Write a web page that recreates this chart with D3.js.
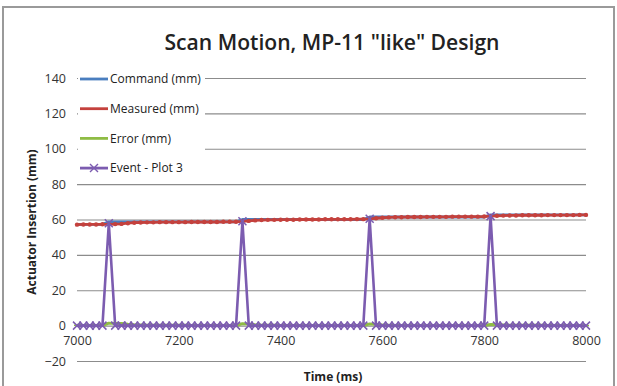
<!DOCTYPE html>
<html>
<head>
<meta charset="utf-8">
<script src="https://cdn.jsdelivr.net/npm/d3@7"></script>
<style>
  body { margin: 0; background: #fff; }
  svg text { font-family: "Open Sans", "Noto Sans", sans-serif; fill: #222; }
</style>
</head>
<body>
<svg id="chart" width="617" height="386"></svg>
<script>
// sample times (ms), every 12.5 ms
const times = [
  7000, 7012.5, 7025, 7037.5, 7050, 7062.5, 7075, 7087.5, 7100, 7112.5,
  7125, 7137.5, 7150, 7162.5, 7175, 7187.5, 7200, 7212.5, 7225, 7237.5,
  7250, 7262.5, 7275, 7287.5, 7300, 7312.5, 7325, 7337.5, 7350, 7362.5,
  7375, 7387.5, 7400, 7412.5, 7425, 7437.5, 7450, 7462.5, 7475, 7487.5,
  7500, 7512.5, 7525, 7537.5, 7550, 7562.5, 7575, 7587.5, 7600, 7612.5,
  7625, 7637.5, 7650, 7662.5, 7675, 7687.5, 7700, 7712.5, 7725, 7737.5,
  7750, 7762.5, 7775, 7787.5, 7800, 7812.5, 7825, 7837.5, 7850, 7862.5,
  7875, 7887.5, 7900, 7912.5, 7925, 7937.5, 7950, 7962.5, 7975, 7987.5, 8000
];

const command = [
  57.3, 57.3, 57.3, 57.3, 57.3, 58.7, 58.7, 58.7, 58.7, 58.7,
  58.7, 58.7, 58.7, 58.7, 58.7, 58.7, 58.7, 58.7, 58.7, 58.7,
  58.7, 58.7, 58.7, 58.7, 58.7, 58.7, 60.0, 60.0, 60.0, 60.0,
  60.0, 60.0, 60.0, 60.0, 60.0, 60.0, 60.0, 60.0, 60.0, 60.0,
  60.0, 60.0, 60.0, 60.0, 60.0, 60.0, 61.4, 61.4, 61.4, 61.4,
  61.4, 61.4, 61.4, 61.4, 61.4, 61.4, 61.4, 61.4, 61.4, 61.4,
  61.4, 61.4, 61.4, 61.4, 61.4, 62.6, 62.6, 62.6, 62.6, 62.6,
  62.6, 62.6, 62.6, 62.6, 62.6, 62.6, 62.6, 62.6, 62.6, 62.6, 62.6
];

const measured = [
  57.1, 57.2, 57.2, 57.2, 57.3, 57.3, 57.4, 57.5, 57.9, 58.2,
  58.3, 58.4, 58.4, 58.5, 58.5, 58.5, 58.5, 58.5, 58.6, 58.6,
  58.6, 58.6, 58.6, 58.7, 58.7, 58.7, 58.9, 59.2, 59.5, 59.7,
  59.8, 59.8, 59.9, 59.9, 59.9, 60.0, 60.0, 60.0, 60.0, 60.1,
  60.1, 60.1, 60.1, 60.1, 60.2, 60.2, 60.4, 60.7, 61.0, 61.2,
  61.3, 61.3, 61.4, 61.4, 61.4, 61.5, 61.5, 61.5, 61.5, 61.6,
  61.6, 61.6, 61.6, 61.6, 61.7, 61.9, 62.1, 62.2, 62.3, 62.3,
  62.4, 62.4, 62.4, 62.4, 62.5, 62.5, 62.5, 62.5, 62.5, 62.6, 62.6
];

const errorMm = [
  0.2, 0.1, 0.1, 0.1, 0.0, 1.4, 1.3, 1.2, 0.8, 0.5,
  0.4, 0.3, 0.3, 0.2, 0.2, 0.2, 0.2, 0.2, 0.1, 0.1,
  0.1, 0.1, 0.1, 0.0, 0.0, 0.0, 1.1, 0.8, 0.5, 0.3,
  0.2, 0.2, 0.1, 0.1, 0.1, 0.0, 0.0, 0.0, 0.0, 0.0,
  0.0, 0.0, 0.0, 0.0, 0.0, 0.0, 1.0, 0.7, 0.4, 0.2,
  0.1, 0.1, 0.0, 0.0, 0.0, 0.0, 0.0, 0.0, 0.0, 0.0,
  0.0, 0.0, 0.0, 0.0, 0.0, 0.7, 0.5, 0.4, 0.3, 0.3,
  0.2, 0.2, 0.2, 0.2, 0.1, 0.1, 0.1, 0.1, 0.1, 0.0, 0.0
];

const eventPlot3 = [
  0, 0, 0, 0, 0, 57.9, 0, 0, 0, 0,
  0, 0, 0, 0, 0, 0, 0, 0, 0, 0,
  0, 0, 0, 0, 0, 0, 59.0, 0, 0, 0,
  0, 0, 0, 0, 0, 0, 0, 0, 0, 0,
  0, 0, 0, 0, 0, 0, 60.4, 0, 0, 0,
  0, 0, 0, 0, 0, 0, 0, 0, 0, 0,
  0, 0, 0, 0, 0, 61.9, 0, 0, 0, 0,
  0, 0, 0, 0, 0, 0, 0, 0, 0, 0, 0
];

const yTicks = [-20, 0, 20, 40, 60, 80, 100, 120, 140];
const xTicks = [7000, 7200, 7400, 7600, 7800, 8000];
const seriesNames = ["Command (mm)", "Measured (mm)", "Error (mm)", "Event - Plot 3"];
const seriesColors = ["#4a7ebf", "#c4413d", "#8fbc45", "#7c5cb0"];

const svg = d3.select("#chart");

// chart frame
svg.append("rect")
  .attr("x", 3).attr("y", 7)
  .attr("width", 611).attr("height", 380)
  .attr("fill", "none")
  .attr("stroke", "#9a9a9a")
  .attr("stroke-width", 2);

const xScale = d3.scaleLinear().domain([7000, 8000]).range([77, 586]);
const yScale = d3.scaleLinear().domain([-20, 140]).range([361, 78]);

// gridlines + y labels
const yAxis = d3.axisLeft(yScale)
  .tickValues(yTicks)
  .tickSize(-(586 - 77))
  .tickPadding(11)
  .tickFormat(d3.format("d"));
const yAxisG = svg.append("g").attr("transform", "translate(77,0)").call(yAxis);
yAxisG.select(".domain").remove();
yAxisG.selectAll("line").attr("stroke", "#8c8c8c").attr("stroke-width", 1.2);
yAxisG.selectAll("text").attr("font-size", 12.5).style("fill", "#333");

// x axis sits on the zero line
const xAxis = d3.axisBottom(xScale).tickValues(xTicks).tickSize(0).tickPadding(10).tickFormat(d3.format("d"));
const xAxisG = svg.append("g").attr("transform", `translate(0,${yScale(0)})`).call(xAxis);
xAxisG.select(".domain").remove();
xAxisG.selectAll("text").attr("font-size", 12.5).style("fill", "#333");

// titles
svg.append("text")
  .attr("x", 332).attr("y", 50)
  .attr("text-anchor", "middle")
  .attr("font-size", 22)
  .attr("font-weight", 600)
  .attr("textLength", 335)
  .attr("lengthAdjust", "spacingAndGlyphs")
  .text('Scan Motion, MP-11 "like" Design');

svg.append("text")
  .attr("x", 333).attr("y", 381)
  .attr("text-anchor", "middle")
  .attr("font-size", 12)
  .attr("font-weight", "bold")
  .text("Time (ms)");

svg.append("text")
  .attr("transform", "translate(36,222) rotate(-90)")
  .attr("text-anchor", "middle")
  .attr("font-size", 12)
  .attr("font-weight", "bold")
  .text("Actuator Insertion (mm)");

// series
const allSeries = [command, measured, errorMm, eventPlot3];
const line = d3.line().x((d, i) => xScale(times[i])).y((d) => yScale(d));
const g = svg.append("g");

allSeries.forEach((vals, k) => {
  g.append("path")
    .datum(vals)
    .attr("d", line)
    .attr("fill", "none")
    .attr("stroke", seriesColors[k])
    .attr("stroke-width", k == 3 ? 2.6 : 2.8)
    .attr("stroke-linejoin", "round");

  if (k == 1) {
    g.selectAll(".mdot")
      .data(vals)
      .enter()
      .append("circle")
      .attr("class", "mdot")
      .attr("cx", (d, i) => xScale(times[i]))
      .attr("cy", (d) => yScale(d))
      .attr("r", 2.2)
      .attr("fill", seriesColors[1]);
  }
  if (k == 2) {
    g.selectAll(".edash")
      .data(vals)
      .enter()
      .append("line")
      .attr("class", "edash")
      .attr("x1", (d, i) => xScale(times[i]) - 3)
      .attr("x2", (d, i) => xScale(times[i]) + 3)
      .attr("y1", (d) => yScale(d))
      .attr("y2", (d) => yScale(d))
      .attr("stroke", seriesColors[2])
      .attr("stroke-width", 1.5);
  }
  if (k == 3) {
    const s = 4;
    g.selectAll(".evx")
      .data(vals)
      .enter()
      .append("path")
      .attr("class", "evx")
      .attr("d", (d, i) => {
        const cx = xScale(times[i]), cy = yScale(d);
        return `M${cx - s},${cy - s}L${cx + s},${cy + s}M${cx - s},${cy + s}L${cx + s},${cy - s}`;
      })
      .attr("stroke", seriesColors[3])
      .attr("stroke-width", 1.5)
      .attr("fill", "none");
  }
});

//Legend
const legend = svg.append("g");
legend.append("rect")
  .attr("x", 78).attr("y", 68)
  .attr("width", 127).attr("height", 112)
  .attr("fill", "#fff");

const items = legend.selectAll(".item")
  .data(seriesNames)
  .enter()
  .append("g")
  .attr("class", "item")
  .attr("transform", (d, i) => `translate(80,${79 + 29.7 * i})`);

items.append("line")
  .attr("x1", 0).attr("x2", 28)
  .attr("stroke", (d, i) => seriesColors[i])
  .attr("stroke-width", 2.8);

items.filter((d, i) => i == 3)
  .append("path")
  .attr("d", "M10,-4L18,4M10,4L18,-4")
  .attr("stroke", seriesColors[3])
  .attr("stroke-width", 1.4);

items.append("text")
  .attr("x", 30)
  .attr("dy", "0.35em")
  .attr("font-size", 12)
  .text((d) => d);
</script>
</body>
</html>
